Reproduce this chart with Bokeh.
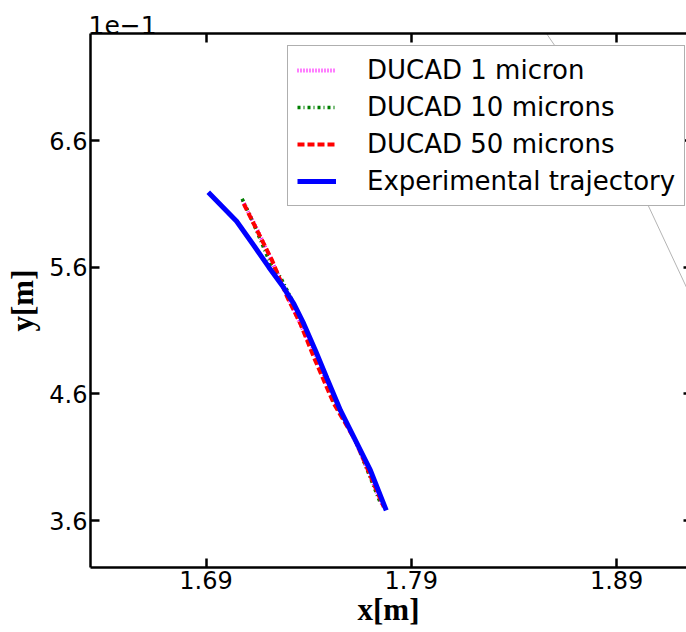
from bokeh.plotting import figure
from bokeh.models import (Range1d, LinearAxis, FixedTicker, CustomJSTickFormatter,
                          Legend, LegendItem)
from bokeh.embed import file_html
from bokeh.resources import INLINE

# ---- data (x, y in metres) ----
x_ticks = [1.69, 1.79, 1.89]
y_ticks = [0.36, 0.46, 0.56, 0.66]

exp_x = [1.6911, 1.7049, 1.7133, 1.7206, 1.7271, 1.7328, 1.7376, 1.7433,
         1.7490, 1.7555, 1.7628, 1.7701, 1.7778]
exp_y = [0.6192, 0.5963, 0.5771, 0.5600, 0.5456, 0.5311, 0.5154, 0.4943,
         0.4719, 0.4469, 0.4232, 0.3995, 0.3680]

d1_x = [1.7078, 1.7151, 1.7224, 1.7302, 1.7365, 1.7424, 1.7492, 1.7555, 1.7633, 1.7760]
d1_y = [0.6126, 0.5890, 0.5637, 0.5353, 0.5132, 0.4943, 0.4682, 0.4453, 0.4208, 0.3719]

d10_x = [1.7076, 1.7125, 1.7214, 1.7263, 1.7328, 1.7393, 1.7458, 1.7521, 1.7628, 1.7750]
d10_y = [0.6140, 0.5969, 0.5627, 0.5521, 0.5311, 0.5074, 0.4840, 0.4548, 0.4232, 0.3735]

d50_x = [1.7084, 1.7157, 1.7222, 1.7296, 1.7360, 1.7425, 1.7523, 1.7628, 1.7766]
d50_y = [0.6100, 0.5864, 0.5653, 0.5363, 0.5153, 0.4890, 0.4522, 0.4232, 0.3706]

wall_x = [1.8554, 1.8565, 1.8602, 1.9054, 1.9240, 1.9284]
wall_y = [0.7460, 0.7429, 0.7342, 0.6087, 0.5442, 0.5290]

labels = ["DUCAD 1 micron", "DUCAD 10 microns", "DUCAD 50 microns", "Experimental trajectory"]

p = figure(width=686, height=632, output_backend="svg", toolbar_location=None,
           x_range=Range1d(1.63374, 1.92404), y_range=Range1d(0.3229, 0.7445),
           min_border_left=90, min_border_right=0, min_border_top=33, min_border_bottom=65,
           title="1e\u22121")
p.outline_line_color = None
p.xgrid.visible = False
p.ygrid.visible = False
p.background_fill_color = "white"
p.border_fill_color = "white"

p.title.text_font = "DejaVu Sans"
p.title.text_font_style = "normal"
p.title.text_font_size = "25px"
p.title.text_color = "black"
p.title.align = "left"
p.title.offset = -2
p.title.standoff = 0

xa = p.below[0]
ya = p.left[0]

empty = CustomJSTickFormatter(code="return '';")
top = LinearAxis(ticker=FixedTicker(ticks=x_ticks), formatter=empty, major_label_standoff=0)
p.add_layout(top, "above")
right = LinearAxis(ticker=FixedTicker(ticks=y_ticks), formatter=empty, major_label_standoff=0)
p.add_layout(right, "right")

xa.ticker = FixedTicker(ticks=x_ticks)
ya.ticker = FixedTicker(ticks=y_ticks)
ya.formatter = CustomJSTickFormatter(code="return (tick*10).toFixed(1);")

for ax in [xa, ya, top, right]:
    ax.axis_line_width = 2.5
    ax.axis_line_color = "black"
    ax.major_tick_in = 9
    ax.major_tick_out = 0
    ax.major_tick_line_width = 2.5
    ax.major_tick_line_color = "black"
    ax.minor_tick_line_color = None
    ax.major_label_text_font = "DejaVu Sans"
    ax.major_label_text_color = "black"
    ax.major_label_text_font_size = "24px"
right.axis_line_color = None
right.major_tick_in = 3
xa.major_label_standoff = 3
ya.major_label_standoff = 3

for ax, lab in [(xa, "x[m]"), (ya, "y[m]")]:
    ax.axis_label = lab
    ax.axis_label_text_font = "Liberation Serif"
    ax.axis_label_text_font_style = "bold"
    ax.axis_label_text_font_size = "31px"
    ax.axis_label_text_color = "black"
xa.axis_label_standoff = 0
ya.axis_label_standoff = 6

p.line(wall_x, wall_y, line_color="#b4b4b4", line_width=1)

r1 = p.line(d1_x, d1_y, line_color="#ff00ff", line_width=4, line_dash="1 2")
r2 = p.line(d10_x, d10_y, line_color="#008000", line_width=3.5, line_dash="3 3 1 3")
r3 = p.line(d50_x, d50_y, line_color="#ff0000", line_width=4, line_dash="7 3")
r4 = p.line(exp_x, exp_y, line_color="#0000ff", line_width=5)

legend = Legend(items=[LegendItem(label=labels[0], renderers=[r1]),
                       LegendItem(label=labels[1], renderers=[r2]),
                       LegendItem(label=labels[2], renderers=[r3]),
                       LegendItem(label=labels[3], renderers=[r4])],
                location=(197, 361), padding=9, spacing=7, margin=0,
                glyph_width=39, glyph_height=20, label_standoff=31,
                label_text_font="DejaVu Sans", label_text_font_size="26px",
                label_text_color="black",
                border_line_color="#606060", border_line_width=1,
                background_fill_color="white", background_fill_alpha=1)
p.add_layout(legend)

open("out.html", "w").write(file_html(p, INLINE))
